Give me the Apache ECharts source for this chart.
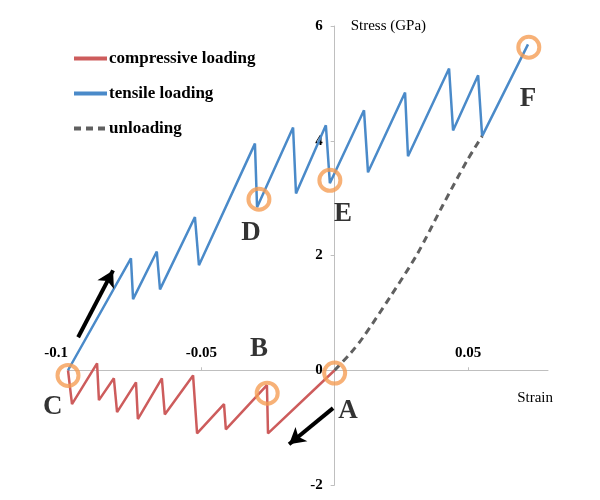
<!DOCTYPE html>
<html><head><meta charset="utf-8">
<script src="https://cdn.jsdelivr.net/npm/echarts@6/dist/echarts.min.js"></script>
<style>html,body{margin:0;padding:0;background:#fff}#c{width:600px;height:500px}</style>
</head><body><div id="c"></div>
<script>
// Series data (strain, stress in GPa)
const tensileStrain = [-0.1, -0.0764, -0.0756, -0.0667, -0.0655, -0.0524, -0.0509, -0.0299, -0.0291, -0.0156, -0.0145, -0.0033, -0.0018, 0.011, 0.0125, 0.0264, 0.0275, 0.0429, 0.0444, 0.0538, 0.0553, 0.0725];
const tensileStress = [0, 1.95, 1.24, 2.07, 1.41, 2.67, 1.83, 3.95, 2.84, 4.23, 3.08, 4.27, 3.26, 4.53, 3.45, 4.84, 3.73, 5.26, 4.18, 5.14, 4.08, 5.68];
const compStrain = [-0.1, -0.0985, -0.0891, -0.0884, -0.0828, -0.0816, -0.0745, -0.0738, -0.0648, -0.0637, -0.0531, -0.0516, -0.0415, -0.0408, -0.0254, -0.0250, 0];
const compStress = [0, -0.59, 0.12, -0.52, -0.14, -0.73, -0.21, -0.85, -0.14, -0.77, -0.09, -1.10, -0.59, -1.03, -0.26, -1.10, 0];
const unloadStrain = [0, 0.006, 0.0106, 0.0207, 0.0309, 0.0406, 0.0496, 0.0553];
const unloadStress = [0, 0.30, 0.57, 1.27, 2.02, 2.88, 3.65, 4.08];
// Marked points (circles) and their letters
const pointNames = ['A', 'B', 'C', 'D', 'E', 'F'];
const pointStrain = [0, -0.0253, -0.1, -0.0284, -0.0018, 0.0728];
const pointStress = [-0.05, -0.40, -0.09, 2.98, 3.31, 5.63];
const letterStrain = [0.0050, -0.0284, -0.1057, -0.0314, 0.0031, 0.0725];
const letterStress = [-0.71, 0.37, -0.64, 2.40, 2.72, 4.72];
// Arrows: [tailStrain, tailStress, headStrain, headStress]
const arrowUp = [-0.0962, 0.575, -0.0831, 1.74];
const arrowDown = [-0.0006, -0.66, -0.0171, -1.29];
// Axis ticks
const xTickLabels = ['-0.1', '-0.05', '0.05'];
const yTickLabels = ['-2', '0', '2', '4', '6'];
const seriesNames = ['compressive loading', 'tensile loading', 'unloading'];
const xMin = -0.1, xMax = 0.08, yMin = -2, yMax = 6;

const zip = (a, b) => a.map((v, i) => [v, b[i]]);
const serif = 'Liberation Serif';
const axisColor = '#bfbfbf';

// grid geometry; axes are shifted so that they cross at (0,0)
const G = { left: 68, right: 52, top: 26, bottom: 15 };
const gw = 600 - G.left - G.right, gh = 500 - G.top - G.bottom;
const yAxisShift = -gw * (0 - xMin) / (xMax - xMin);
const xAxisShift = -gh * (0 - yMin) / (yMax - yMin);

const chart = echarts.init(document.getElementById('c'));
chart.setOption({
  animation: false,
  backgroundColor: '#fff',
  grid: Object.assign({ containLabel: false }, G),
  legend: {
    data: seriesNames,
    orient: 'vertical',
    left: 67, top: 45,
    itemWidth: 33, itemHeight: 16, itemGap: 18,
    textStyle: { fontFamily: serif, fontSize: 17, fontWeight: 'bold', color: '#000', padding: [0,0,0,-3] },
    lineStyle: { width: 4 },
    itemStyle: { opacity: 0 },
    selectedMode: false
  },
  xAxis: {
    type: 'value', min: xMin, max: xMax, interval: 0.05,
    position: 'bottom', offset: xAxisShift,
    name: 'Strain', nameLocation: 'end', nameGap: 5,
    nameTextStyle: { fontFamily: serif, fontSize: 15, color: '#000', align: 'right', verticalAlign: 'top', padding: [20,0,0,0] },
    axisLine: { onZero: false, lineStyle: { color: axisColor, width: 1 } },
    axisTick: { inside: true, length: 3, lineStyle: { color: axisColor } },
    axisLabel: {
      inside: true, margin: 10, showMaxLabel: false, alignMinLabel: 'right',
      fontFamily: serif, fontSize: 15, fontWeight: 'bold', color: '#000',
      formatter: v => { const s = String(+v.toFixed(4)); return xTickLabels.includes(s) ? s : ''; }
    },
    splitLine: { show: false }
  },
  yAxis: {
    type: 'value', min: yMin, max: yMax, interval: 2,
    position: 'left', offset: yAxisShift,
    name: 'Stress (GPa)', nameLocation: 'end', nameGap: 0,
    nameTextStyle: { fontFamily: serif, fontSize: 15, color: '#000', align: 'left', verticalAlign: 'middle', padding: [0,0,0,16] },
    axisLine: { onZero: false, lineStyle: { color: axisColor, width: 1 } },
    axisTick: { inside: false, length: 4, lineStyle: { color: axisColor } },
    axisLabel: {
      margin: 12, fontFamily: serif, fontSize: 15, fontWeight: 'bold', color: '#000',
      formatter: v => { const s = String(v); return yTickLabels.includes(s) ? s : ''; }
    },
    splitLine: { show: false }
  },
  series: [
    {
      name: seriesNames[0], type: 'line', data: zip(compStrain, compStress),
      symbol: 'none', lineStyle: { color: '#CD5C5C', width: 2.5 }, itemStyle: { color: '#CD5C5C' },
      emphasis: { disabled: true }, z: 3
    },
    {
      name: seriesNames[1], type: 'line', data: zip(tensileStrain, tensileStress),
      symbol: 'none', lineStyle: { color: '#4A8AC9', width: 2.5 }, itemStyle: { color: '#4A8AC9' },
      emphasis: { disabled: true }, z: 3
    },
    {
      name: seriesNames[2], type: 'line', data: zip(unloadStrain, unloadStress), smooth: 0.3,
      symbol: 'none', lineStyle: { color: '#606060', width: 3, type: [7, 5] }, itemStyle: { color: '#606060' },
      emphasis: { disabled: true }, z: 3
    },
    {
      name: 'points', type: 'scatter', clip: false, silent: true,
      data: zip(pointStrain, pointStress),
      symbol: 'circle', symbolSize: 21,
      itemStyle: { color: 'rgba(0,0,0,0)', borderColor: '#F59E55', borderWidth: 4 },
      z: 5
    },
    {
      name: 'letters', type: 'scatter', clip: false, silent: true,
      data: pointNames.map((n, i) => ({ name: n, value: [letterStrain[i], letterStress[i]] })),
      symbolSize: 1, itemStyle: { color: 'rgba(0,0,0,0)' },
      label: { show: true, position: 'inside', formatter: '{b}', fontFamily: serif, fontSize: 27, fontWeight: 'bold', color: '#000' },
      z: 6
    },
    {
      name: 'arrows', type: 'line', data: [], silent: true,
      markLine: {
        silent: true, animation: false,
        symbol: ['none', 'arrow'], symbolSize: [14, 16],
        lineStyle: { color: '#000', width: 4, type: 'solid' },
        label: { show: false },
        emphasis: { disabled: true },
        data: [
          [{ coord: [arrowUp[0], arrowUp[1]] }, { coord: [arrowUp[2], arrowUp[3]] }],
          [{ coord: [arrowDown[0], arrowDown[1]] }, { coord: [arrowDown[2], arrowDown[3]] }]
        ]
      }
    }
  ]
});
</script>
</body></html>
